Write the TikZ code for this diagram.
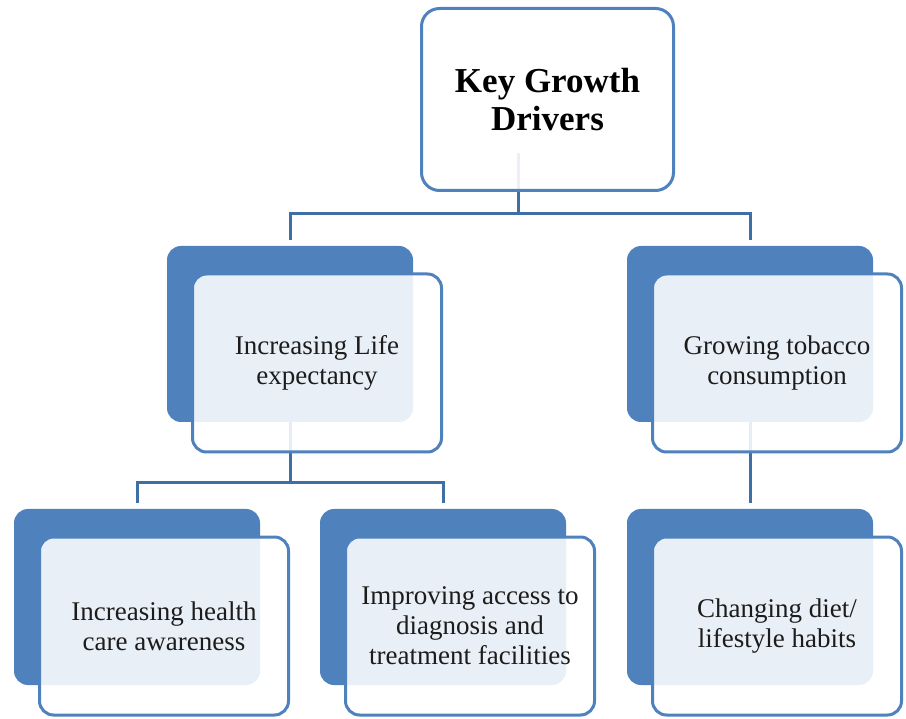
\documentclass[tikz,border=0pt]{standalone}
\usepackage{fontspec}
\setmainfont{Liberation Serif}
\usepackage{tikz}
\usetikzlibrary{calc}

\definecolor{boxblue}{RGB}{79,129,189}
\definecolor{linkblue}{RGB}{64,110,166}
\definecolor{inkgray}{RGB}{28,28,28}

\tikzset{
  backbox/.style={rectangle, rounded corners=14pt, fill=boxblue, inner sep=0pt,
    minimum width=246pt, minimum height=176pt},
  frontbox/.style={rectangle, rounded corners=14pt, draw=boxblue, line width=3pt,
    fill=white, fill opacity=0.88, text opacity=1, text=inkgray, align=center,
    minimum width=249pt, minimum height=178pt, font=\fontsize{27}{30}\selectfont},
  topbox/.style={rectangle, rounded corners=18pt, draw=boxblue, line width=3pt,
    fill=white, fill opacity=0.9, text opacity=1, text=black, align=center,
    minimum width=252pt, minimum height=182pt, font=\bfseries\fontsize{35}{38}\selectfont},
  link/.style={draw=linkblue, line width=3pt},
}

\begin{document}
\begin{tikzpicture}[x=1pt,y=-1pt]
\useasboundingbox (0,0) rectangle (906,719);

% dark tabs behind each box
\foreach \name/\x/\y in {life/317/363, tobacco/777/363, health/164/626, access/470/626, diet/777/626}
  \node[backbox] (\name Back) at (\x-27,\y-29) {};

% connectors
\coordinate (stem) at (518,153);
\coordinate (busTop) at (518,214);
\draw[link] (stem) -- (busTop);
\draw[link] ([yshift=6pt]lifeBack.north) |- (busTop) -| ([yshift=6pt]tobaccoBack.north);
\draw[link] (lifeBack.south) -- ++(0,60) coordinate (busMid);
\draw[link] ([yshift=6pt]healthBack.north) |- (busMid) -| ([yshift=6pt]accessBack.north);
\draw[link] (tobaccoBack.south) -- ([yshift=6pt]dietBack.north);

% boxes with text
\foreach \name/\x/\y/\txt in {
    life/317/363/{Increasing Life\\expectancy},
    tobacco/777/363/{Growing tobacco\\consumption},
    health/164/626/{Increasing health\\care awareness},
    access/470/626/{Improving access to\\diagnosis and\\treatment facilities},
    diet/777/626/{Changing diet/\\lifestyle habits}}
  \node[frontbox] (\name) at (\x,\y) {\txt};

\node[topbox] (drivers) at (547.5,99.5) {Key Growth\\Drivers};
\end{tikzpicture}
\end{document}
